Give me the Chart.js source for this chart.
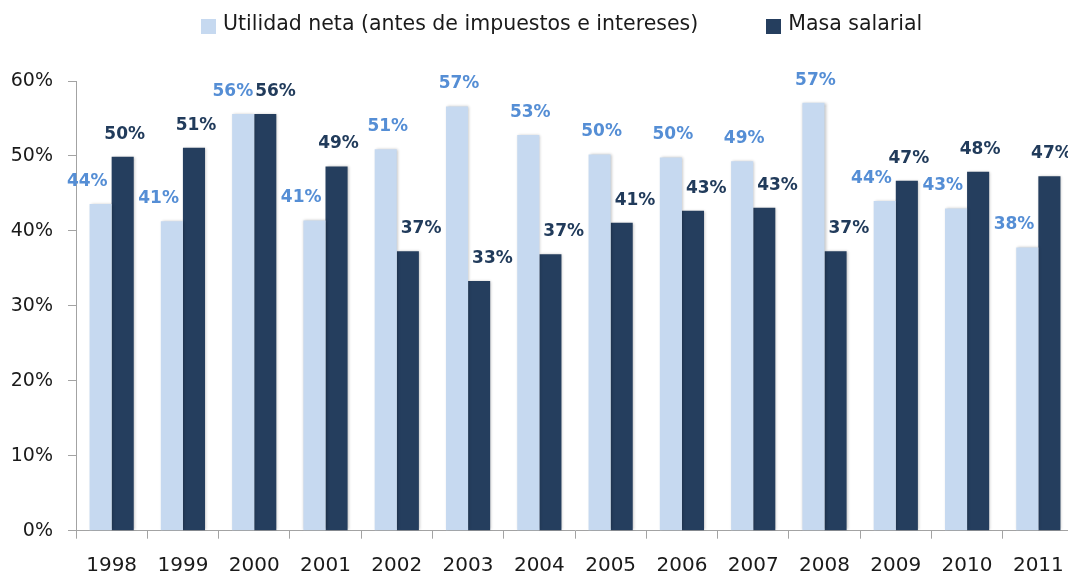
<!DOCTYPE html>
<html>
<head>
<meta charset="utf-8">
<script src="https://cdn.jsdelivr.net/npm/chart.js@4.4.1/dist/chart.umd.min.js"></script>
<style>
  html, body { margin: 0; padding: 0; background: #fff; overflow: hidden; }
  #wrap { position: relative; width: 1080px; height: 574px; }
  #chart { position: absolute; left: 0; top: 0; }
  #legend {
    position: absolute; left: 201px; top: 11px;
    display: flex; gap: 68px;
    font: 20.5px "DejaVu Sans", sans-serif; line-height: 24px; color: #1a1a1a;
  }
  .item { display: flex; align-items: flex-start; }
  .box { width: 15px; height: 15px; margin-top: 8px; margin-right: 7px; }
</style>
</head>
<body>
<div id="wrap">
  <canvas id="chart" width="1080" height="574"></canvas>
  <div id="legend"></div>
</div>
<script>
// ---- data ----
const years    = ['1998','1999','2000','2001','2002','2003','2004','2005','2006','2007','2008','2009','2010','2011'];
const utilidad = [43.6, 41.3, 55.6, 41.4, 50.9, 56.6, 52.8, 50.2, 49.8, 49.3, 57.1, 44.0, 43.0, 37.8];
const masa     = [49.9, 51.1, 55.6, 48.6, 37.3, 33.3, 36.9, 41.1, 42.7, 43.1, 37.3, 46.7, 47.9, 47.3];
const yTicks   = [0, 10, 20, 30, 40, 50, 60];

const LIGHT = '#c6d9f0';
const DARK  = '#253e5e';
const LIGHT_TXT = '#558ed5';
const DARK_TXT  = '#213b5b';
const AXIS = '#a3a3a3';

function pct(v) { return Math.round(v) + '%'; }

// soft shadow round the bars
const barShadow = {
  id: 'barShadow',
  beforeDatasetsDraw(chart) {
    const c = chart.ctx;
    c.save();
    c.shadowColor = 'rgba(0,0,0,0.28)';
    c.shadowBlur = 3;
    c.shadowOffsetX = 1;
    c.shadowOffsetY = 0;
  },
  afterDatasetsDraw(chart) { chart.ctx.restore(); }
};

// value labels above bars, pushed sideways when they would hit the other bar
const barLabels = {
  id: 'barLabels',
  afterDatasetsDraw(chart) {
    const ctx = chart.ctx;
    const light = chart.getDatasetMeta(0).data;
    const dark  = chart.getDatasetMeta(1).data;
    ctx.save();
    ctx.font = 'bold 17px "DejaVu Sans"';
    ctx.textAlign = 'center';
    ctx.textBaseline = 'alphabetic';
    light.forEach(function(lb, i) {
      const db = dark[i];
      const lt = pct(utilidad[i]), dt = pct(masa[i]);
      const lw = ctx.measureText(lt).width, dw = ctx.measureText(dt).width;
      const ly = lb.y - 18, dy = db.y - 18;
      const edge = lb.x + lb.width / 2;
      let lx = lb.x + 2, dx = db.x + 2;
      if (Math.abs(ly - dy) < 16) {
        lx = edge - 1 - lw / 2;
        dx = edge + 1 + dw / 2;
      } else if (db.y < ly) {
        lx = Math.min(lx, edge - 4 - lw / 2);
      } else if (lb.y < dy) {
        dx = Math.max(dx, edge + 4 + dw / 2);
      }
      ctx.fillStyle = LIGHT_TXT;
      ctx.fillText(lt, lx, ly);
      ctx.fillStyle = DARK_TXT;
      ctx.fillText(dt, dx, dy);
    });
    ctx.restore();
  }
};

const chart = new Chart(document.getElementById('chart'), {
  type: 'bar',
  data: {
    labels: years,
    datasets: [
      { label: 'Utilidad neta (antes de impuestos e intereses)', data: utilidad,
        backgroundColor: LIGHT, categoryPercentage: 0.62, barPercentage: 1 },
      { label: 'Masa salarial', data: masa,
        backgroundColor: DARK, categoryPercentage: 0.62, barPercentage: 1 }
    ]
  },
  options: {
    responsive: false,
    animation: false,
    devicePixelRatio: 1,
    layout: { padding: { left: 10, right: 6, top: 81, bottom: 0 } },
    plugins: { legend: { display: false }, tooltip: { enabled: false } },
    scales: {
      x: {
        grid: { drawOnChartArea: false, drawTicks: true, tickLength: 8, color: AXIS, offset: true },
        border: { color: AXIS },
        ticks: { color: '#1a1a1a', padding: 15, font: { family: 'DejaVu Sans', size: 20 } },
        afterFit: function(s) { s.height = 43.3; }
      },
      y: {
        min: yTicks[0], max: yTicks[yTicks.length - 1],
        afterBuildTicks: function(s) { s.ticks = yTicks.map(function(v) { return { value: v }; }); },
        grid: { drawOnChartArea: false, drawTicks: true, tickLength: 8, color: AXIS },
        border: { color: AXIS },
        ticks: { color: '#1a1a1a', padding: 15, font: { family: 'DejaVu Sans', size: 19 },
                 callback: function(v) { return v + '%'; } },
        afterFit: function(s) { s.width = 66; }
      }
    }
  },
  plugins: [barShadow, barLabels]
});

// legend as html, built from the datasets
const legend = document.getElementById('legend');
chart.data.datasets.forEach(function(ds) {
  const item = document.createElement('div');
  item.className = 'item';
  const box = document.createElement('span');
  box.className = 'box';
  box.style.background = ds.backgroundColor;
  const txt = document.createElement('span');
  txt.textContent = ds.label;
  item.appendChild(box);
  item.appendChild(txt);
  legend.appendChild(item);
});
</script>
</body>
</html>
